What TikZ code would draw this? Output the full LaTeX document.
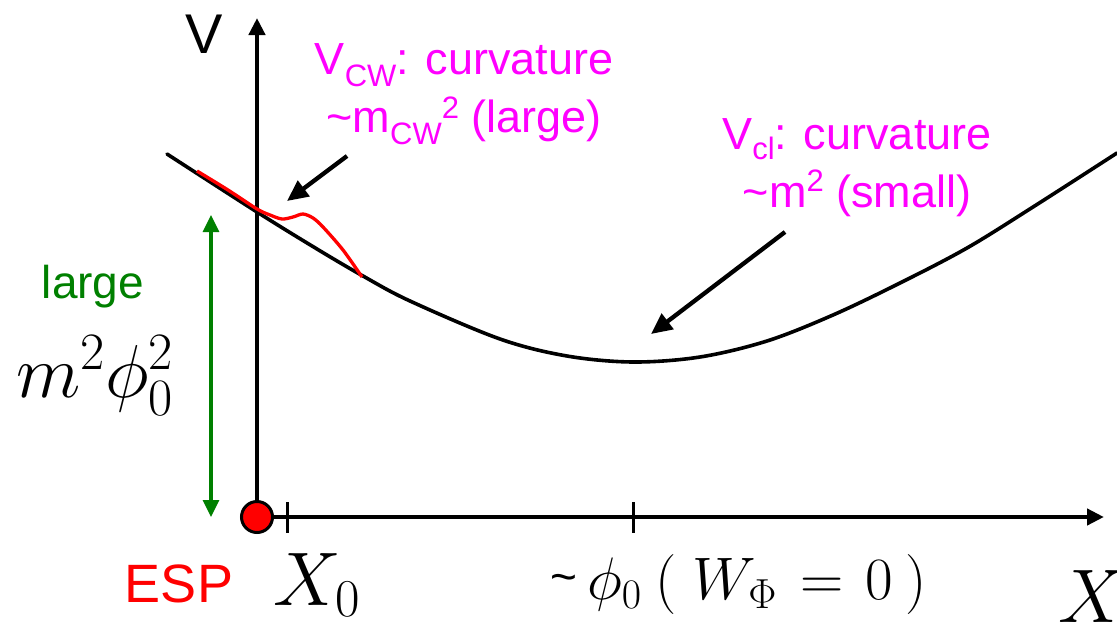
\RequirePackage{fix-cm}
\documentclass[tikz,border=0pt]{standalone}
\usepackage{fontspec}
\newfontfamily\arial{Liberation Sans}
\usetikzlibrary{arrows.meta}
\definecolor{mag}{RGB}{255,0,255}
\definecolor{grn}{RGB}{0,128,0}
\definecolor{espred}{RGB}{255,0,0}
\newcommand\lowsub[2]{\raisebox{-#2}{\fontsize{31}{31}\selectfont #1}}
\newcommand\upsup[2]{\raisebox{#2}{\fontsize{31}{31}\selectfont #1}}
\begin{document}
\begin{tikzpicture}[x=1pt,y=-1pt,
  axis/.style={line width=4.3pt,-{Triangle[length=17pt,width=16pt]}},
  pointer/.style={line width=4.3pt,-{Triangle[length=21pt,width=19pt]}},
  tickmark/.style={line width=3pt},
  curve/.style={line width=3.6pt},
  lbl/.style={inner sep=0pt,anchor=base},
  maglbl/.style={lbl,text=mag,align=center,font=\arial\fontsize{45}{58}\selectfont},
  espdot/.style={circle,draw=black,line width=3pt,fill=espred,minimum size=31pt,inner sep=0pt}
]
\useasboundingbox (0,0) rectangle (1117,624);

% axes
\coordinate (O) at (257,517);
\coordinate (vtip) at (257,18);
\coordinate (htip) at (1104,517);
\draw[axis] (O) -- (vtip);
\draw[axis] (O) -- (htip);
\coordinate (t1a) at (287,502); \coordinate (t1b) at (287,533);
\coordinate (t2a) at (633,502); \coordinate (t2b) at (633,533);
\draw[tickmark] (t1a) -- (t1b);
\draw[tickmark] (t2a) -- (t2b);

% potential curves
\draw[curve,line cap=round] plot[smooth,tension=0.55] coordinates {(167,154) (257,212) (317,249) (363,276) (410,301) (500,339) (567,356) (633,362) (700,357) (767,341) (833,315) (900,283) (967,248) (1033,207) (1117,153)};
\draw[curve,espred,line width=3.3pt] plot[smooth,tension=0.5] coordinates {(197,171) (228,190) (257,209) (270,215) (282,219) (293,217) (303,214) (313,218) (323,227) (343,250) (362,277)};

% ESP dot
\node[espdot] (esp) at (O) {};

% green double arrow
\coordinate (ga) at (211,215);
\coordinate (gb) at (211,517);
\draw[grn,line width=3.2pt,{Triangle[length=17pt,width=16pt]}-{Triangle[length=17pt,width=16pt]}] (ga) -- (gb);

% pointer arrows
\coordinate (p1s) at (347,156); \coordinate (p1e) at (287,201);
\coordinate (p2s) at (785,232); \coordinate (p2e) at (651,334);
\draw[pointer] (p1s) -- (p1e);
\draw[pointer] (p2s) -- (p2e);

% labels
\node[lbl,font=\arial\fontsize{56}{56}\selectfont] (vlab) at (204,53) {V};
\node[maglbl] (cw) at (464,132) {V\lowsub{CW}{12pt}: curvature\\\textasciitilde m\lowsub{CW}{12pt}\upsup{2}{14pt} (large)};
\node[maglbl] (cl) at (857,207) {V\lowsub{cl}{10pt}: curvature\\\textasciitilde m\upsup{2}{16pt} (small)};
\node[lbl,text=grn,font=\arial\fontsize{46}{46}\selectfont] (large) at (93,298) {large};
\node[lbl,font=\fontsize{75}{75}\selectfont] (mphi) at (95,397) {$m^2\phi_0^2$};
\node[lbl,text=espred,font=\arial\fontsize{54}{54}\selectfont] (esplab) at (179,602) {ESP};
\node[lbl,font=\fontsize{76}{76}\selectfont] (x0) at (317,605) {$X_0$};
\node[lbl,anchor=base west,font=\fontsize{60}{60}\selectfont] (phi0) at (550,599) {{\arial\fontsize{46}{46}\selectfont\raisebox{7pt}{\textasciitilde}}\hspace{10pt}$\phi_0$\hspace{14pt}$($\hspace{16pt}$W_\Phi$\hspace{24pt}$=$\hspace{22pt}$0$\hspace{12pt}$)$};
\node[lbl,anchor=base west,font=\fontsize{76}{76}\selectfont] (xlab) at (1058,622) {$X$};
\end{tikzpicture}
\end{document}
